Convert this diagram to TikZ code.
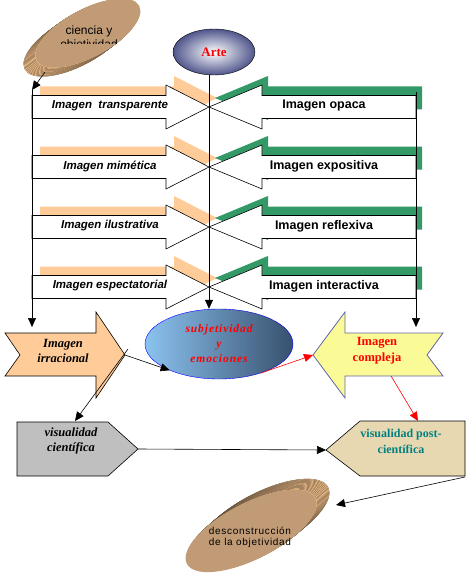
\documentclass[tikz,border=0pt]{standalone}
\usepackage{fontspec}
\setmainfont{Liberation Serif}
\setsansfont{Liberation Sans}
\newfontfamily\spacedsans[LetterSpace=7]{Liberation Sans}
\newfontfamily\spacedserif[LetterSpace=8]{Liberation Serif}
\usepackage{xcolor}
\usepackage{tikz}
\usetikzlibrary{arrows.meta, calc, shapes.geometric}
\definecolor{peach}{RGB}{255,204,153}
\definecolor{greenshade}{RGB}{51,153,102}
\definecolor{artblue}{RGB}{80,86,140}
\definecolor{skyblue}{RGB}{140,195,240}
\definecolor{deepslate}{RGB}{55,80,110}
\definecolor{paleyellow}{RGB}{250,250,150}
\definecolor{lilac}{RGB}{100,100,170}
\definecolor{parchment}{RGB}{232,216,178}
\definecolor{discface}{RGB}{193,155,118}
\definecolor{discside}{RGB}{226,180,130}
\definecolor{discdark}{RGB}{160,128,96}
\definecolor{postteal}{RGB}{0,128,128}
\tikzset{
    rowarrow/.style={draw=black, fill=white, line width=0.6pt},
    lefttext/.style={font=\sffamily\bfseries\itshape\fontsize{11.5}{13}\selectfont},
    righttext/.style={font=\sffamily\bfseries\fontsize{12.5}{14}\selectfont},
    serifbi/.style={align=center, font=\bfseries\itshape\fontsize{12.5}{15}\selectfont},
    serifb/.style={align=center, font=\bfseries\fontsize{12.5}{16}\selectfont},
    disctext/.style={align=center, font=\spacedsans\fontsize{10}{11.5}\selectfont},
    link/.style={-{Triangle[length=9pt,width=8pt]}, line width=0.6pt},
    redlink/.style={link, draw=red, -{Triangle[length=9pt,width=8pt,fill=red]}}
}
\begin{document}
\begin{tikzpicture}[x=1pt, y=-1pt]
    \useasboundingbox (0,0) rectangle (469,575);
    % disc: ciencia y objetividad
    \foreach \k in {12,11,...,1}
        \fill[left color=discside, right color=discside!80!discdark, shift={(88-\k,33+0.75*\k)}, rotate=28]
            (0,0) ellipse [x radius=58pt, y radius=24pt];
    \fill[discface, shift={(88,33)}, rotate=28] (0,0) ellipse [x radius=58pt, y radius=24pt];
    \begin{scope}
        \clip (0,0) rectangle (469,43.5);
        \node[align=center, font=\sffamily\fontsize{12}{14}\selectfont] (ciencia) at (89,38) {ciencia y\\objetividad};
    \end{scope}
    \coordinate (ciencia-out) at (45,72);
    % Arte
    \node[ellipse, draw, inner color=white, outer color=artblue, minimum width=82pt, minimum height=46pt,
        inner sep=0pt, text=red, font=\bfseries\fontsize{13}{15}\selectfont] (arte) at (214,52) {Arte};
    % rows of opposed arrows
    \foreach \y/\lt/\rt [count=\i] in {107/{Imagen\ \ transparente}/{Imagen opaca},
        167/{Imagen mimética}/{Imagen expositiva},
        227/{Imagen ilustrativa}/{Imagen reflexiva},
        287/{Imagen espectatorial}/{Imagen interactiva}}
    {
        \fill[peach, shift={(8,-9)}] (32,\y-11.5) -- (166,\y-11.5) -- (166,\y-22) -- (209,\y)
            -- (166,\y+22) -- (166,\y+11.5) -- (32,\y+11.5) -- cycle;
        \fill[greenshade, shift={(6,-9)}] (416,\y-11.5) -- (262,\y-11.5) -- (262,\y-22) -- (209,\y)
            -- (262,\y+22) -- (262,\y+11.5) -- (416,\y+11.5) -- cycle;
        \draw[rowarrow] (32,\y-11.5) -- (166,\y-11.5) -- (166,\y-22) -- (209,\y)
            -- (166,\y+22) -- (166,\y+11.5) -- (32,\y+11.5) -- cycle;
        \draw[rowarrow] (416,\y-11.5) -- (262,\y-11.5) -- (262,\y-22) -- (209,\y)
            -- (262,\y+22) -- (262,\y+11.5) -- (416,\y+11.5) -- cycle;
        \node[lefttext] (left\i) at (110,\y-1) {\lt};
        \node[righttext] (right\i) at (324,\y-1) {\rt};
    }
    % subjetividad
    \node[ellipse, draw=blue, left color=skyblue, right color=deepslate, minimum width=148pt, minimum height=70pt,
        inner sep=0pt, text=red, align=center, font=\spacedserif\bfseries\itshape\fontsize{11.5}{15}\selectfont] (subj) at (219,344)
        {subjetividad\\y\\emociones};
    % Imagen irracional
    \coordinate (irr-tip) at (125,355);
    \draw[fill=peach, line width=0.6pt] (5,333) -- (96,333) -- (96,312) -- (irr-tip) -- (96,398)
        -- (96,376) -- (5,376) -- (20,355) -- cycle;
    \node[serifbi] (irr) at (63,350.5) {Imagen\\irracional};
    \coordinate (irr-out) at (128,349);
    % Imagen compleja
    \coordinate (cx-tip) at (313,355);
    \draw[fill=paleyellow, draw=lilac, line width=0.8pt] (cx-tip) -- (345,312) -- (345,333) -- (443,333)
        -- (427,355) -- (443,376) -- (345,376) -- (345,398) -- cycle;
    \node[serifb, text=red] (cx) at (377,351) {Imagen\\compleja};
    \coordinate (cx-out) at (391,376);
    % visualidad cientifica
    \coordinate (vc-tip) at (138,449);
    \draw[fill=black!25, line width=0.6pt] (17,422) -- (108,422) -- (vc-tip) -- (108,476) -- (17,476) -- cycle;
    \node[serifbi] (vc) at (71,441) {visualidad\\científica};
    \coordinate (vc-in) at (75,421);
    % visualidad post-cientifica
    \coordinate (pc-tip) at (326,450);
    \draw[fill=parchment, line width=0.6pt] (pc-tip) -- (360,421) -- (465,421) -- (465,476) -- (360,476) -- cycle;
    \node[serifb, text=postteal, font=\bfseries\fontsize{12}{16}\selectfont] (pc) at (401,441) {visualidad post-\\científica};
    \coordinate (pc-in) at (418,421);
    \coordinate (pc-out) at (465,477);
    % disc: desconstruccion
    \foreach \k in {13,12,...,1}
        \fill[left color=discdark, right color=discside, shift={(251+\k,531-0.85*\k)}, rotate=27]
            (0,0) ellipse [x radius=72pt, y radius=28pt];
    \fill[discface, shift={(251,531)}, rotate=27] (0,0) ellipse [x radius=72pt, y radius=28pt];
    \node[disctext] (decon) at (250,537.5) {desconstrucción\\de la objetividad};
    \coordinate (decon-in) at (336,505);
    % vertical lines
    \coordinate (axis) at (209,0);
    \coordinate (ltop) at (32,90);
    \coordinate (lbot) at (32,327);
    \coordinate (rtop) at (416,92);
    \coordinate (rbot) at (416,327);
    \draw[link] (ciencia-out) -- (ltop);
    \draw[link] (ltop) -- (lbot);
    \draw[link] (rtop) -- (rbot);
    \draw[link] (arte.south -| axis) -- (subj.north -| axis);
    % links below
    \draw[link] (irr-tip) -- (subj.208);
    \draw[link] (irr-out) -- (vc-in);
    \draw[redlink] (subj.-35) -- (cx-tip);
    \draw[redlink] (cx-out) -- (pc-in);
    \draw[link] (vc-tip) -- (pc-tip);
    \draw[link] (pc-out) -- (decon-in);
\end{tikzpicture}
\end{document}
